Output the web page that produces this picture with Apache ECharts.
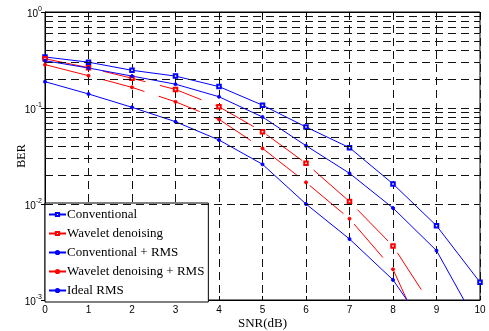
<!DOCTYPE html>
<html>
<head>
<meta charset="utf-8">
<script src="https://cdn.jsdelivr.net/npm/echarts@6/dist/echarts.min.js"></script>
<style>
  html, body { margin: 0; padding: 0; background: #fff; }
  #chart { width: 489px; height: 331px; }
</style>
</head>
<body>
<div id="chart"></div>
<script>
const snr = [0, 1, 2, 3, 4, 5, 6, 7, 8, 9, 10]
const conventional = [0.34, 0.30, 0.247, 0.215, 0.167, 0.107, 0.0634, 0.0386, 0.0162, 0.00594, 0.00153]
const wavelet = [0.326, 0.263, 0.204, 0.156, 0.103, 0.0567, 0.0265, 0.0106, 0.00365, 0.00073, 0.00012]
const conventionalRms = [0.311, 0.261, 0.215, 0.177, 0.131, 0.0806, 0.0405, 0.0209, 0.00908, 0.00327, 0.0005]
const waveletRms = [0.283, 0.217, 0.164, 0.116, 0.0762, 0.038, 0.0168, 0.00703, 0.00209, 0.00021, 0.00002]
const idealRms = [0.188, 0.14, 0.1017, 0.072, 0.0464, 0.0259, 0.01, 0.00432, 0.00162, 0.00036, 0.00005]
const minorGrid = [0.002, 0.003, 0.004, 0.005, 0.006, 0.007, 0.008, 0.009,
  0.02, 0.03, 0.04, 0.05, 0.06, 0.07, 0.08, 0.09,
  0.2, 0.3, 0.4, 0.5, 0.6, 0.7, 0.8, 0.9]

const chart = echarts.init(document.getElementById('chart'), null, { renderer: 'canvas' })

const pairs = (ys) => snr.map((x, i) => [x, ys[i]])
const gridDash = { color: '#111', width: 1, type: [8, 5] }
const redDash = [44, 15]

const mkSeries = (name, ys, color, symbol, size, dashed) => ({
  name: name,
  type: 'line',
  data: pairs(ys),
  symbol: symbol,
  symbolSize: size,
  showSymbol: true,
  z: 3,
  lineStyle: { color: color, width: 1, type: dashed ? redDash : 'solid' },
  itemStyle: { color: color, borderColor: color, borderWidth: 1 },
  emphasis: { disabled: true }
})

const option = {
  animation: false,
  backgroundColor: '#fff',
  grid: { left: 45, right: 9, top: 12, bottom: 31, show: true, borderColor: '#000', borderWidth: 1, outerBoundsMode: 'none', containLabel: false },
  xAxis: [
    {
      type: 'value', min: 0, max: 10, interval: 1,
      name: 'SNR(dB)', nameLocation: 'middle', nameGap: 17, nameMoveOverlap: false,
      nameTextStyle: { fontFamily: 'Liberation Serif', fontSize: 13, color: '#000' },
      axisLine: { show: true, onZero: false, lineStyle: { color: '#000' } },
      axisTick: { show: true, inside: true, length: 4, lineStyle: { color: '#000' } },
      axisLabel: { fontFamily: 'Liberation Sans', fontSize: 10, color: '#000', margin: 5 },
      splitLine: { show: true, lineStyle: gridDash }
    },
    {
      type: 'value', min: 0, max: 10, interval: 1, position: 'top',
      axisLine: { show: true, lineStyle: { color: '#000' } },
      axisTick: { show: true, inside: true, length: 4, lineStyle: { color: '#000' } },
      axisLabel: { show: false },
      splitLine: { show: false }
    }
  ],
  yAxis: [
    {
      type: 'log', logBase: 10, min: 0.001, max: 1,
      name: 'BER', nameLocation: 'middle', nameGap: 17, nameRotate: 90, nameMoveOverlap: false,
      nameTextStyle: { fontFamily: 'Liberation Serif', fontSize: 12, color: '#000' },
      axisLine: { show: true, lineStyle: { color: '#000' } },
      axisTick: { show: true, inside: true, length: 4, lineStyle: { color: '#000' } },
      axisLabel: {
        margin: 3,
        formatter: function (v) {
          const e = Math.round(Math.log10(v))
          return '{b|10}{s|' + e + '}'
        },
        rich: {
          b: { fontFamily: 'Liberation Sans', fontSize: 10, color: '#000', lineHeight: 12, padding: [4, 0, 0, 0] },
          s: { fontFamily: 'Liberation Sans', fontSize: 7, color: '#000', lineHeight: 12, verticalAlign: 'top', padding: [0, 0, 4, 0] }
        }
      },
      splitLine: { show: true, lineStyle: gridDash }
    },
    {
      type: 'log', logBase: 10, min: 0.001, max: 1, position: 'right',
      axisLine: { show: true, lineStyle: { color: '#000' } },
      axisTick: { show: true, inside: true, length: 4, lineStyle: { color: '#000' } },
      axisLabel: { show: false },
      splitLine: { show: false }
    }
  ],
  legend: {
    orient: 'vertical',
    left: 45, top: 203,
    padding: [4, 4, 4, 3],
    itemGap: 4,
    itemWidth: 17, itemHeight: 4,
    backgroundColor: '#fff',
    borderColor: '#000', borderWidth: 1, borderRadius: 0,
    selectedMode: false,
    textStyle: { fontFamily: 'Liberation Serif', fontSize: 13, color: '#000', lineHeight: 15, padding: [0, 0, 0, -4] },
    data: ['Conventional', 'Wavelet denoising', 'Conventional + RMS', 'Wavelet denoising + RMS', 'Ideal RMS']
  },
  series: [
    {
      name: 'grid', type: 'line', data: [], silent: true, z: 1,
      markLine: {
        silent: true, symbol: 'none', animation: false,
        label: { show: false },
        lineStyle: gridDash,
        emphasis: { disabled: true },
        data: minorGrid.map(v => ({ yAxis: v }))
      }
    },
    mkSeries('Conventional', conventional, '#0000ff', 'emptyRect', 3.5, false),
    mkSeries('Wavelet denoising', wavelet, '#ff0000', 'emptyRect', 3.5, true),
    mkSeries('Conventional + RMS', conventionalRms, '#0000ff', 'circle', 3, false),
    mkSeries('Wavelet denoising + RMS', waveletRms, '#ff0000', 'circle', 3, true),
    mkSeries('Ideal RMS', idealRms, '#0000ff', 'circle', 3, false)
  ]
}

chart.setOption(option)
</script>
</body>
</html>
